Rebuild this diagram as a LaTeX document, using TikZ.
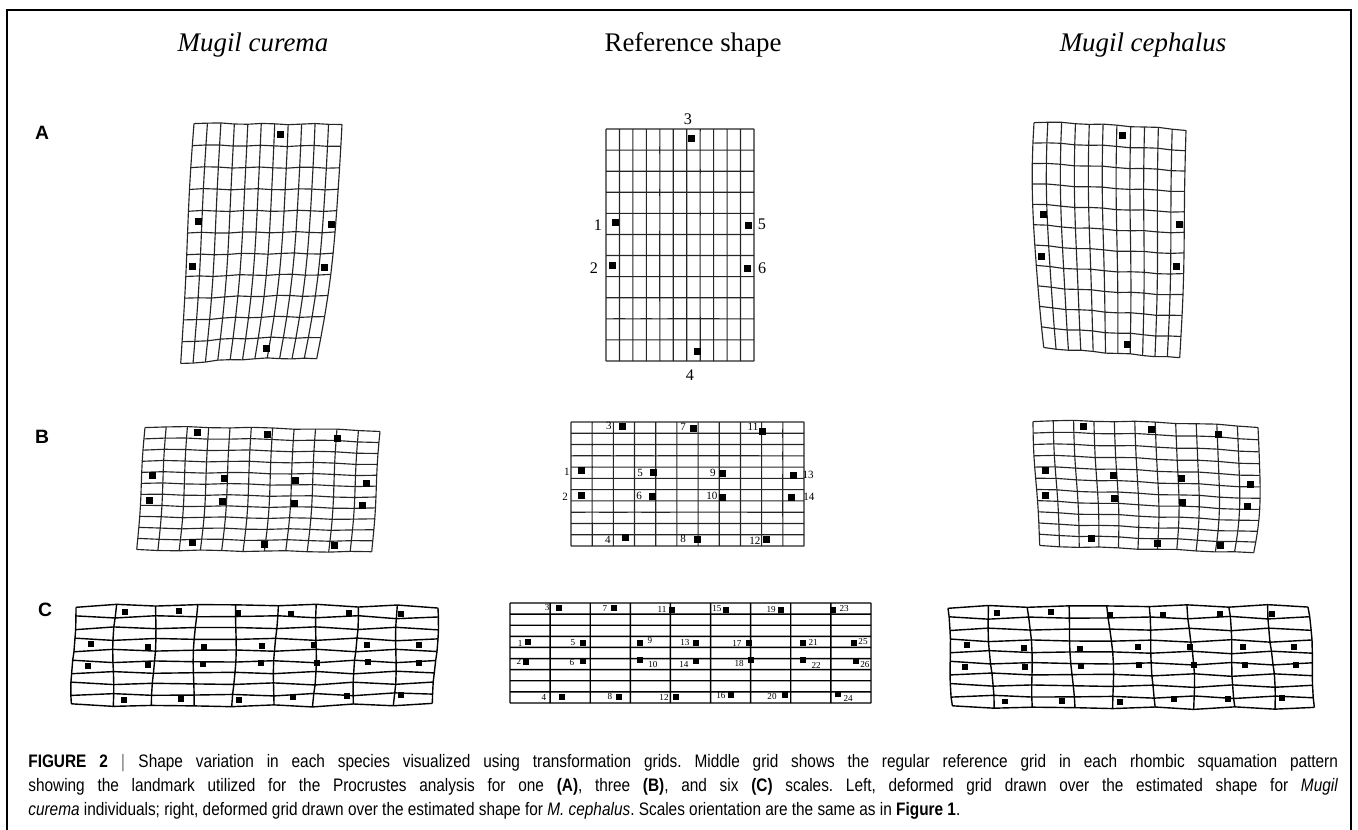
\documentclass[tikz,border=0pt]{standalone}
\usepackage{fontspec}
\setmainfont{Liberation Serif}
\setsansfont{Liberation Sans}
\newfontfamily\capfont{Liberation Sans}[FakeStretch=0.85]
\usetikzlibrary{positioning}

% control points of a warped grid (3x3, row by row) and jitter
\def\getX#1,#2,#3,#4,#5,#6,#7,#8,#9\relax{\def\Xa{#1}\def\Xb{#2}\def\Xc{#3}%
  \def\Xd{#4}\def\Xe{#5}\def\Xf{#6}\def\Xg{#7}\def\Xh{#8}\def\Xi{#9}}
\def\getY#1,#2,#3,#4,#5,#6,#7,#8,#9\relax{\def\Ya{#1}\def\Yb{#2}\def\Yc{#3}%
  \def\Yd{#4}\def\Ye{#5}\def\Yf{#6}\def\Yg{#7}\def\Yh{#8}\def\Yi{#9}}
\newcommand{\setwarp}[3][0]{\def\WJ{#1}\getX#2\relax\getY#3\relax}
% point (u,v) of the warp -> \wpx, \wpy
\newcommand{\warpxy}[2]{%
  \pgfmathsetmacro\uu{#1}\pgfmathsetmacro\vv{#2}%
  \pgfmathsetmacro\ua{(2*\uu-1)*(\uu-1)}\pgfmathsetmacro\ub{4*\uu*(1-\uu)}%
  \pgfmathsetmacro\uc{\uu*(2*\uu-1)}%
  \pgfmathsetmacro\va{(2*\vv-1)*(\vv-1)}\pgfmathsetmacro\vb{4*\vv*(1-\vv)}%
  \pgfmathsetmacro\vc{\vv*(2*\vv-1)}%
  \pgfmathsetmacro\wpx{\va*(\ua*\Xa+\ub*\Xb+\uc*\Xc)+\vb*(\ua*\Xd+\ub*\Xe+\uc*\Xf)%
    +\vc*(\ua*\Xg+\ub*\Xh+\uc*\Xi)+\WJ*sin(7919*\uu+3571*\vv)}%
  \pgfmathsetmacro\wpy{\va*(\ua*\Ya+\ub*\Yb+\uc*\Yc)+\vb*(\ua*\Yd+\ub*\Ye+\uc*\Yf)%
    +\vc*(\ua*\Yg+\ub*\Yh+\uc*\Yi)+\WJ*cos(5077*\uu+8123*\vv)}%
}
% grid #2 with #3 columns and #4 rows through the current warp
\newcommand{\warpgrid}[4][gridline]{%
  \foreach \i in {0,...,#3}{
    \foreach \j in {0,...,#4}{
      \warpxy{\i/#3}{\j/#4}
      \coordinate (#2-\i-\j) at (\wpx,\wpy);
    }
  }
  \foreach \i in {0,...,#3}
    \draw[#1] (#2-\i-0) \foreach \j in {1,...,#4}{ -- (#2-\i-\j)};
  \foreach \j in {0,...,#4}
    \draw[#1] (#2-0-\j) \foreach \i in {1,...,#3}{ -- (#2-\i-\j)};
}

\tikzset{
  gridline/.style={line width=0.65pt, black!85, line join=round},
  gridthick/.style={line width=0.8pt, black, line join=round},
  lmk/.style={fill=black, inner sep=0pt, minimum size=#1},
  lmk/.default=0.14cm,
  title/.style={font=\fontsize{15.3}{18}\selectfont, anchor=base},
  panel/.style={font=\sffamily\bfseries\fontsize{11}{13}\selectfont},
  numA/.style={font=\fontsize{9.2}{10}\selectfont, inner sep=0pt},
  numB/.style={font=\fontsize{6.3}{7}\selectfont, inner sep=0pt},
  numC/.style={font=\fontsize{5.2}{6}\selectfont, inner sep=0pt},
  capt/.style={text width=26.2cm, align=justify, inner sep=0pt,
    font=\capfont\fontsize{10.3}{13.6}\selectfont\frenchspacing},
}

% landmarks: u/v/number/label dx/label dy
\def\lmA{0.581/0.043/3/-4/-20, 0.061/0.405/1/-17/2, 0.966/0.418/5/13/-2,
  0.047/0.590/2/-19/2, 0.953/0.603/6/15/-1, 0.615/0.957/4/-7/24}
\def\lmB{0.223/0.040/3/-14/-1, 0.524/0.056/7/-10/-2, 0.824/0.073/11/-10/-4,
  0.047/0.395/1/-15/1, 0.352/0.411/5/-13/0, 0.652/0.419/9/-10/-1,
  0.953/0.435/13/15/-1, 0.043/0.589/2/-16/2, 0.348/0.597/6/-13/0,
  0.652/0.605/10/-11/-1, 0.948/0.605/14/17/0, 0.236/0.935/4/-18/2,
  0.541/0.944/8/-14/0, 0.841/0.944/12/-12/2}
\def\lmC{0.136/0.05/3/-12/0, 0.288/0.05/7/-9/1, 0.449/0.07/11/-10/-1,
  0.598/0.07/15/-9/-1, 0.751/0.07/19/-10/0, 0.895/0.07/23/11/-1,
  0.050/0.39/1/-8/1, 0.202/0.40/5/-10/0, 0.360/0.40/9/10/-2,
  0.515/0.40/13/-11/0, 0.662/0.40/17/-12/0, 0.812/0.40/21/10/-1,
  0.953/0.40/25/9/-1, 0.044/0.59/2/-7/-1, 0.202/0.58/6/-11/2,
  0.360/0.57/10/13/5, 0.515/0.58/14/-12/3, 0.668/0.57/18/-12/3,
  0.812/0.57/22/13/5, 0.958/0.58/26/9/4, 0.144/0.94/4/-18/0,
  0.302/0.94/8/-9/0, 0.460/0.94/12/-12/0, 0.612/0.92/16/-10/1,
  0.762/0.92/20/-13/2, 0.909/0.91/24/10/4}

\begin{document}
\begin{tikzpicture}[x=0.02cm, y=-0.02cm]
\useasboundingbox (0,0) rectangle (1358,829);
% frame
\draw[line width=0.9pt] (7,10) rectangle (1351,900);

% headings
\node[title] (hcur) at (253,51) {\itshape Mugil curema};
\node[title] (href) at (693,51) {Reference shape};
\node[title] (hcep) at (1143,51) {\itshape Mugil cephalus};

\node[panel] (pA) at (42,133) {A};
\node[panel] (pB) at (42,437) {B};
\node[panel] (pC) at (45,610) {C};

% A: one scale
\setwarp[0.6]{194,268,342,187,262,334,181,249,317}{123,124,124,244,243,243,364,359,359}
\warpgrid{gcua}{11}{11}
\foreach \pu/\pv/\n/\dx/\dy in \lmA {
  \warpxy{\pu}{\pv}
  \node[lmk] (cua\n) at (\wpx,\wpy) {};
}
\setwarp{606,680,754,606,680,754,606,680,754}{129,129,129,245,245,245,361,361,361}
\warpgrid{grfa}{11}{11}
\foreach \pu/\pv/\n/\dx/\dy in \lmA {
  \warpxy{\pu}{\pv}
  \node[lmk] (rfa\n) at (\wpx,\wpy) {};
  \node[numA] (tfa\n) at ([shift={(\dx,\dy)}]rfa\n) {\n};
}
\setwarp[0.6]{1034,1110,1186,1034,1110,1184,1044,1112,1180}{122,125,130,235,240,243,348,353,358}
\warpgrid{gcea}{11}{11}
\foreach \pu/\pv/\n/\dx/\dy in \lmA {
  \warpxy{\pu}{\pv}
  \node[lmk] (cea\n) at (\wpx,\wpy) {};
}

% B: three scales
\setwarp[0.6]{145,262,380,141,259,376,137,254,372}{427,428,431,489,490,492,550,551,552}
\warpgrid{gcub}{11}{11}
\foreach \pu/\pv/\n/\dx/\dy in \lmB {
  \warpxy{\pu}{\pv}
  \node[lmk] (cub\n) at (\wpx,\wpy) {};
}
\setwarp{571,687.5,804,571,687.5,804,571,687.5,804}{422,422,422,484,484,484,546,546,546}
\warpgrid{grfb}{11}{11}
\foreach \pu/\pv/\n/\dx/\dy in \lmB {
  \warpxy{\pu}{\pv}
  \node[lmk] (rfb\n) at (\wpx,\wpy) {};
  \node[numB] (tfb\n) at ([shift={(\dx,\dy)}]rfb\n) {\n};
}
\setwarp[0.6]{1033,1145,1258,1036,1148,1260,1040,1148,1254}{421,422,427,484,488,493,546,549,553}
\warpgrid{gceb}{11}{11}
\foreach \pu/\pv/\n/\dx/\dy in \lmB {
  \warpxy{\pu}{\pv}
  \node[lmk] (ceb\n) at (\wpx,\wpy) {};
}

% C: six scales
\setwarp[1.3]{76,257,438,73,255,436,72,253,433}{606,605,607,656,656,656,705,706,704}
\warpgrid[gridthick]{gcuc}{9}{9}
\foreach \pu/\pv/\n/\dx/\dy in \lmC {
  \warpxy{\pu}{\pv}
  \node[lmk=0.12cm] (cuc\n) at (\wpx,\wpy) {};
}
\setwarp{510,690.5,871,510,690.5,871,510,690.5,871}{603,603,603,653,653,653,703,703,703}
\warpgrid[gridthick]{grfc}{9}{9}
\foreach \pu/\pv/\n/\dx/\dy in \lmC {
  \warpxy{\pu}{\pv}
  \node[lmk=0.11cm] (rfc\n) at (\wpx,\wpy) {};
  \node[numC] (tfc\n) at ([shift={(\dx,\dy)}]rfc\n) {\n};
}
\setwarp[1.3]{948,1128,1308,950,1132,1312,953,1134,1315}{607,606,606,657,658,658,707,708,708}
\warpgrid[gridthick]{gcec}{9}{9}
\foreach \pu/\pv/\n/\dx/\dy in \lmC {
  \warpxy{\pu}{\pv}
  \node[lmk=0.12cm] (cec\n) at (\wpx,\wpy) {};
}

% caption
\node[capt, anchor=north west] (cap) at (28,754) {%
  \textbf{FIGURE 2 $|$} Shape variation in each species visualized using transformation grids. Middle grid shows the regular reference grid in each rhombic squamation pattern\linebreak
  showing the landmark utilized for the Procrustes analysis for one \textbf{(A)}, three \textbf{(B)}, and six \textbf{(C)} scales. Left, deformed grid drawn over the estimated shape for \textit{Mugil}\linebreak
  \textit{curema} individuals; right, deformed grid drawn over the estimated shape for \textit{M. cephalus}. Scales orientation are the same as in \textbf{Figure 1}.};
\end{tikzpicture}
\end{document}
